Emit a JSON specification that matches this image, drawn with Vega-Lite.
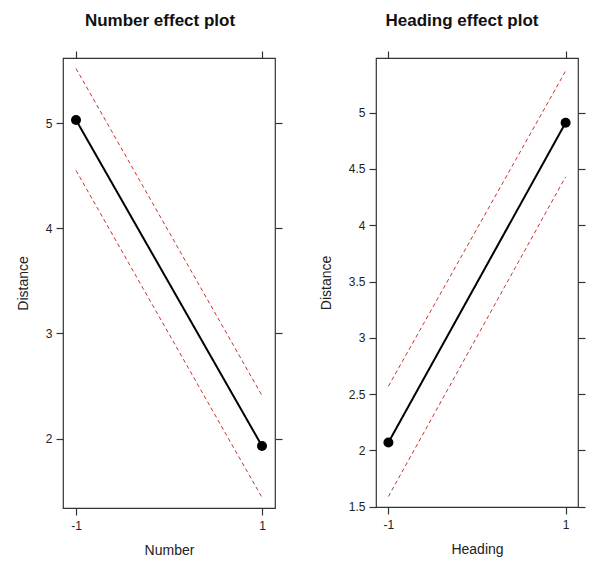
{
  "$schema": "https://vega.github.io/schema/vega-lite/v6.json",
  "padding": {"left": 15, "top": 11, "right": 5, "bottom": 5},
  "spacing": 34,
  "background": "white",
  "config": {
    "font": "Liberation Sans",
    "view": {"stroke": "#333333", "strokeWidth": 1.2},
    "axis": {
      "grid": false,
      "domain": false,
      "tickColor": "#333333",
      "tickSize": 7,
      "tickWidth": 1.2,
      "labelFont": "Liberation Sans",
      "labelFontSize": 12,
      "labelColor": "#222222",
      "titleFont": "Liberation Sans",
      "titleFontSize": 14,
      "titleFontWeight": "normal",
      "titleColor": "#222222"
    }
  },
  "datasets": {
    "number": [
      {"level": -1, "fit": 5.03, "lower": 4.55, "upper": 5.52},
      {"level": 1, "fit": 1.93, "lower": 1.44, "upper": 2.41}
    ],
    "heading": [
      {"level": -1, "fit": 2.07, "lower": 1.59, "upper": 2.57},
      {"level": 1, "fit": 4.91, "lower": 4.43, "upper": 5.37}
    ]
  },
  "hconcat": [
    {
      "width": 212,
      "height": 450,
      "data": {"name": "number"},
      "title": {"text": "Number effect plot", "fontSize": 17, "fontWeight": "bold", "color": "#111111", "anchor": "middle", "frame": "group", "dx": -9, "offset": 20},
      "layer": [
        {
          "encoding": {
            "x": {"field": "level", "type": "quantitative", "scale": {"domain": [-1.14, 1.14], "nice": false, "zero": false},
                  "axis": {"orient": "bottom", "title": "Number", "values": [-1, 1], "labelExpr": "'' + datum.value", "labelPadding": 5, "titlePadding": 12}}
          },
          "layer": [
            {
              "mark": {"type": "line", "color": "#cc3333", "strokeWidth": 1, "strokeDash": [4, 3]},
              "encoding": {"y": {"field": "upper", "type": "quantitative", "scale": {"domain": [1.34, 5.62], "nice": false, "zero": false},
                                 "axis": {"orient": "left", "title": "Distance", "values": [2, 3, 4, 5], "labelExpr": "'' + datum.value", "labelPadding": 4, "titlePadding": 15}}}
            },
            {
              "mark": {"type": "line", "color": "#cc3333", "strokeWidth": 1, "strokeDash": [4, 3]},
              "encoding": {"y": {"field": "lower", "type": "quantitative"}}
            },
            {
              "mark": {"type": "line", "color": "black", "strokeWidth": 2},
              "encoding": {"y": {"field": "fit", "type": "quantitative"}}
            },
            {
              "mark": {"type": "point", "filled": true, "color": "black", "opacity": 1, "size": 100},
              "encoding": {"y": {"field": "fit", "type": "quantitative"}}
            }
          ]
        },
        {
          "mark": {"type": "point", "opacity": 0},
          "encoding": {
            "x": {"field": "level", "type": "quantitative", "scale": {"domain": [-1.14, 1.14], "nice": false, "zero": false},
                  "axis": {"orient": "top", "title": null, "labels": false, "values": [-1, 1]}},
            "y": {"field": "fit", "type": "quantitative", "scale": {"domain": [1.34, 5.62], "nice": false, "zero": false},
                  "axis": {"orient": "right", "title": null, "labels": false, "values": [2, 3, 4, 5]}}
          }
        }
      ],
      "resolve": {"scale": {"x": "independent", "y": "independent"}}
    },
    {
      "width": 202,
      "height": 449,
      "data": {"name": "heading"},
      "title": {"text": "Heading effect plot", "fontSize": 17, "fontWeight": "bold", "color": "#111111", "anchor": "middle", "frame": "group", "dx": -15, "offset": 20},
      "layer": [
        {
          "encoding": {
            "x": {"field": "level", "type": "quantitative", "scale": {"domain": [-1.14, 1.14], "nice": false, "zero": false},
                  "axis": {"orient": "bottom", "title": "Heading", "values": [-1, 1], "labelExpr": "'' + datum.value", "labelPadding": 5, "titlePadding": 12}}
          },
          "layer": [
            {
              "mark": {"type": "line", "color": "#cc3333", "strokeWidth": 1, "strokeDash": [4, 3]},
              "encoding": {"y": {"field": "upper", "type": "quantitative", "scale": {"domain": [1.497, 5.486], "nice": false, "zero": false},
                                 "axis": {"orient": "left", "title": "Distance", "values": [1.5, 2, 2.5, 3, 3.5, 4, 4.5, 5], "labelExpr": "'' + datum.value", "labelPadding": 4, "titlePadding": 15}}}
            },
            {
              "mark": {"type": "line", "color": "#cc3333", "strokeWidth": 1, "strokeDash": [4, 3]},
              "encoding": {"y": {"field": "lower", "type": "quantitative"}}
            },
            {
              "mark": {"type": "line", "color": "black", "strokeWidth": 2},
              "encoding": {"y": {"field": "fit", "type": "quantitative"}}
            },
            {
              "mark": {"type": "point", "filled": true, "color": "black", "opacity": 1, "size": 100},
              "encoding": {"y": {"field": "fit", "type": "quantitative"}}
            }
          ]
        },
        {
          "mark": {"type": "point", "opacity": 0},
          "encoding": {
            "x": {"field": "level", "type": "quantitative", "scale": {"domain": [-1.14, 1.14], "nice": false, "zero": false},
                  "axis": {"orient": "top", "title": null, "labels": false, "values": [-1, 1]}},
            "y": {"field": "fit", "type": "quantitative", "scale": {"domain": [1.497, 5.486], "nice": false, "zero": false},
                  "axis": {"orient": "right", "title": null, "labels": false, "values": [1.5, 2, 2.5, 3, 3.5, 4, 4.5, 5]}}
          }
        }
      ],
      "resolve": {"scale": {"x": "independent", "y": "independent"}}
    }
  ]
}
